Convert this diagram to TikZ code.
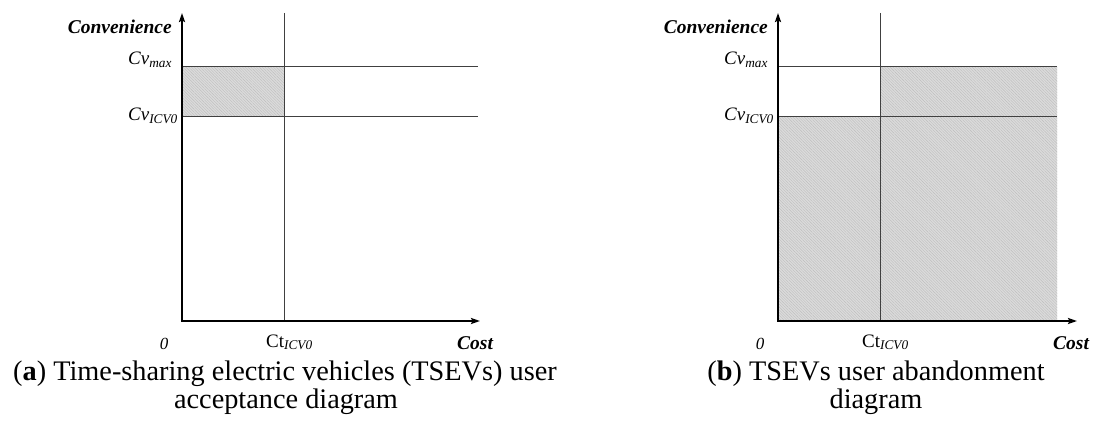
\documentclass[tikz,border=0pt]{standalone}
\usepackage{fontspec}
\setmainfont{Liberation Serif}
\usetikzlibrary{arrows.meta,patterns.meta}
\begin{document}
\begin{tikzpicture}[x=1pt,y=-1pt,
  axis/.style={line width=1.8pt,line join=miter,{Stealth[length=9pt,width=6pt,inset=1.5pt]}-{Stealth[length=9pt,width=6pt,inset=1.5pt]}},
  gridline/.style={line width=1pt,black!75},
  hatch/.style={fill=black!14,postaction={pattern={Lines[angle=-45,distance=2pt,line width=0.4pt]},pattern color=black!26}},
  axlabel/.style={font=\fontsize{19.5}{22}\selectfont\bfseries\itshape,inner sep=0pt},
  vlabel/.style={font=\fontsize{19}{22}\selectfont\itshape,inner sep=0pt},
  tlabel/.style={font=\fontsize{19}{22}\selectfont,inner sep=0pt},
  zlabel/.style={font=\fontsize{17}{20}\selectfont\itshape,inner sep=0pt},
  captext/.style={font=\fontsize{28.3}{31}\selectfont,inner sep=0pt}
]
\useasboundingbox[fill=white] (0,0) rectangle (1094,430);

% ---------- panel (a) ----------
\coordinate (aO) at (182,321);
\coordinate (aY) at (182,13);
\coordinate (aX) at (480,321);
\coordinate (aVt) at (284,13);
\coordinate (aVb) at (284,321);
\coordinate (aMaxL) at (182,67);
\coordinate (aMaxR) at (478,67);
\coordinate (aIcvL) at (182,116.5);
\coordinate (aIcvR) at (478,116.5);
\coordinate (aIcvV) at (284,116.5);

\fill[hatch] (aMaxL) rectangle (aIcvV);
\draw[gridline] (aVt) -- (aVb);
\draw[gridline] (aMaxL) -- (aMaxR);
\draw[gridline] (aIcvL) -- (aIcvR);
\draw[axis] (aY) -- (aO) -- (aX);

\node[axlabel,anchor=base east] (aConv) at (172,34) {Convenience};
\node[vlabel,anchor=base west] (aCvmax) at (128,65) {Cv\textsubscript{max}};
\node[vlabel,anchor=base west] (aCvicv) at (128,121) {Cv\textsubscript{ICV0}};
\node[zlabel,anchor=base] (aZero) at (164,349) {0};
\node[tlabel,anchor=base west] (aCt) at (266,347) {Ct\textsubscript{\itshape ICV0}};
\node[axlabel,anchor=base west] (aCost) at (457,349) {Cost};

\node[captext,anchor=base] (aCap1) at (285,380) {(\textbf{a}) Time-sharing electric vehicles (TSEVs) user};
\node[captext,anchor=base] (aCap2) at (286,408) {acceptance diagram};

% ---------- panel (b) ----------
\coordinate (bO) at (778,321);
\coordinate (bY) at (778,13);
\coordinate (bX) at (1077,321);
\coordinate (bVt) at (880,13);
\coordinate (bVb) at (880,321);
\coordinate (bMaxL) at (778,67);
\coordinate (bMaxV) at (880,67);
\coordinate (bMaxR) at (1057,67);
\coordinate (bIcvL) at (778,116.5);
\coordinate (bIcvV) at (880,116.5);
\coordinate (bIcvR) at (1057,116.5);
\coordinate (bBotR) at (1057,321);

\fill[hatch] (bMaxV) -- (bMaxR) -- (bBotR) -- (bO) -- (bIcvL) -- (bIcvV) -- cycle;
\draw[gridline] (bVt) -- (bVb);
\draw[gridline] (bMaxL) -- (bMaxR);
\draw[gridline] (bIcvL) -- (bIcvR);
\draw[axis] (bY) -- (bO) -- (bX);

\node[axlabel,anchor=base east] (bConv) at (768,34) {Convenience};
\node[vlabel,anchor=base west] (bCvmax) at (724,65) {Cv\textsubscript{max}};
\node[vlabel,anchor=base west] (bCvicv) at (724,121) {Cv\textsubscript{ICV0}};
\node[zlabel,anchor=base] (bZero) at (760,349) {0};
\node[tlabel,anchor=base west] (bCt) at (862,347) {Ct\textsubscript{\itshape ICV0}};
\node[axlabel,anchor=base west] (bCost) at (1053,349) {Cost};

\node[captext,anchor=base] (bCap1) at (876,380) {(\textbf{b}) TSEVs user abandonment};
\node[captext,anchor=base] (bCap2) at (876,408) {diagram};
\end{tikzpicture}
\end{document}
